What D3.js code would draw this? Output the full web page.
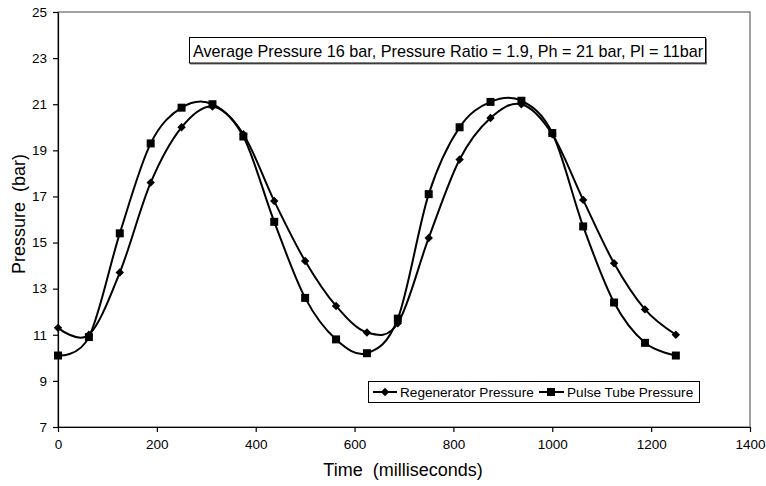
<!DOCTYPE html>
<html><head><meta charset="utf-8">
<script src="https://cdn.jsdelivr.net/npm/d3@7"></script>
<style>body{margin:0;background:#fff}svg{display:block}text{font-family:"Liberation Sans",Arial,sans-serif;white-space:pre}</style>
</head><body>
<svg id="c" width="766" height="486"></svg>
<script>
const times = [0,62.5,125,187.5,250,312.5,375,437.5,500,562.5,625,687.5,750,812.5,875,937.5,1000,1062.5,1125,1187.5,1250];
const regenerator = [11.3,11.0,13.7,17.6,20.0,20.9,19.7,16.8,14.2,12.25,11.1,11.5,15.2,18.6,20.4,21.0,19.7,16.85,14.1,12.1,11.0];
const pulseTube = [10.1,10.9,15.4,19.3,20.85,21.0,19.6,15.9,12.6,10.8,10.2,11.7,17.1,20.0,21.1,21.15,19.75,15.7,12.4,10.65,10.1];
const xTicks = [0,200,400,600,800,1000,1200,1400];
const yTicks = [7,9,11,13,15,17,19,21,23,25];
const seriesNames = ["Regenerator Pressure","Pulse Tube Pressure"];
const annotation = "Average Pressure 16 bar, Pressure Ratio = 1.9, Ph = 21 bar, Pl = 11bar";
const xTitle = "Time  (milliseconds)";
const yTitle = "Pressure  (bar)";

const svg = d3.select("#c");
const L=58, R=750, T=12, B=427;
const x = d3.scaleLinear().domain([0,1400]).range([L,R]);
const y = d3.scaleLinear().domain([7,25]).range([B,T]);

svg.append("rect").attr("x",L).attr("y",T).attr("width",R-L).attr("height",B-T)
  .attr("fill","none").attr("stroke","#444").attr("stroke-width",1);

const xa = svg.append("g").attr("transform",`translate(0,${B})`)
  .call(d3.axisBottom(x).tickValues(xTicks).tickFormat(d3.format("d")).tickSize(5).tickSizeOuter(0).tickPadding(7));
const ya = svg.append("g").attr("transform",`translate(${L},0)`)
  .call(d3.axisLeft(y).tickValues(yTicks).tickFormat(d3.format("d")).tickSize(5).tickSizeOuter(0).tickPadding(6));
[xa,ya].forEach(a=>{
  a.selectAll("path,line").attr("stroke","#000").attr("stroke-width",1.2);
  a.selectAll("text").attr("font-size",13.5).attr("fill","#000").attr("font-family","Liberation Sans, Arial, sans-serif");
});

svg.append("text").attr("x",403).attr("y",476).attr("text-anchor","middle")
  .attr("font-size",18).text(xTitle);
svg.append("text").attr("transform",`translate(25,214) rotate(-90)`).attr("text-anchor","middle")
  .attr("font-size",18).text(yTitle);

const line = d3.line().x((d,i)=>x(times[i])).y(d=>y(d)).curve(d3.curveCardinal.tension(0));
const g = svg.append("g");
g.append("path").attr("d",line(regenerator)).attr("fill","none").attr("stroke","#000").attr("stroke-width",2);
g.append("path").attr("d",line(pulseTube)).attr("fill","none").attr("stroke","#000").attr("stroke-width",2);

const diamond = "M0,-4.2L4.2,0L0,4.2L-4.2,0Z";
const square = d3.symbol().type(d3.symbolSquare).size(64);
g.selectAll(".dm").data(regenerator).join("path").attr("d",diamond)
  .attr("transform",(d,i)=>`translate(${x(times[i])},${y(d)})`).attr("fill","#000");
g.selectAll(".sq").data(pulseTube).join("path").attr("d",square)
  .attr("transform",(d,i)=>`translate(${x(times[i])},${y(d)})`).attr("fill","#000");

// annotation box
svg.append("rect").attr("x",190).attr("y",38.5).attr("width",517).attr("height",26).attr("fill","#777");
svg.append("rect").attr("x",189.5).attr("y",37.5).attr("width",516).attr("height",25.5).attr("fill","#fff")
  .attr("stroke","#000").attr("stroke-width",1);
svg.append("text").attr("x",448).attr("y",56.5).attr("text-anchor","middle").attr("font-size",16.2).text(annotation);

// legend
const lg = svg.append("g");
lg.append("rect").attr("x",368.5).attr("y",381.5).attr("width",331).attr("height",21)
  .attr("fill","#fff").attr("stroke","#000");
const ly = 392;
lg.append("line").attr("x1",373).attr("x2",397).attr("y1",ly).attr("y2",ly).attr("stroke","#000").attr("stroke-width",2);
lg.append("path").attr("d",diamond).attr("transform",`translate(385,${ly})`);
lg.append("text").attr("x",400).attr("y",ly+5).attr("font-size",13.6).text(seriesNames[0]);
lg.append("line").attr("x1",539).attr("x2",564).attr("y1",ly).attr("y2",ly).attr("stroke","#000").attr("stroke-width",2);
lg.append("path").attr("d",square).attr("transform",`translate(551,${ly})`);
lg.append("text").attr("x",567).attr("y",ly+5).attr("font-size",13.6).text(seriesNames[1]);
</script>
</body></html>
